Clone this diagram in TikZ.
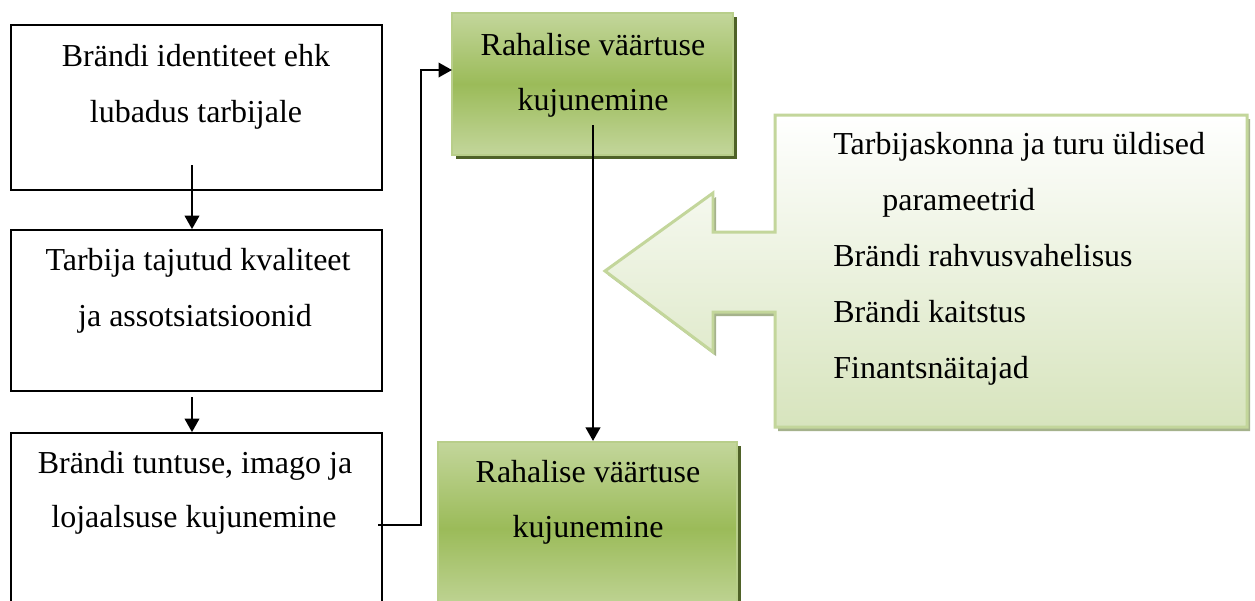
\documentclass[tikz,border=0pt]{standalone}
\usepackage{fontspec}
\setmainfont{Liberation Serif}
\usetikzlibrary{arrows.meta,shadows,calc}
\definecolor{gtop}{RGB}{195,214,155}
\definecolor{gmid}{RGB}{155,187,89}
\definecolor{gborder}{RGB}{184,206,138}
\definecolor{gshadow}{RGB}{79,98,40}
\definecolor{cbot}{RGB}{215,228,189}
\definecolor{cborder}{RGB}{195,214,155}
\definecolor{cshadow}{RGB}{165,178,140}
\tikzset{
  plainbox/.style={draw=black, line width=1pt, fill=white, inner sep=0pt},
  greenbox/.style={draw=gborder, line width=1.2pt, inner sep=0pt,
    top color=gtop, bottom color=gtop, middle color=gmid,
    drop shadow={shadow xshift=0.08cm, shadow yshift=-0.08cm, opacity=1, fill=gshadow}},
  txt/.style={inner sep=0pt, font=\fontsize{18.2}{20}\selectfont},
  arr/.style={draw=black, line width=1.25pt, -{Triangle[length=0.27cm,width=0.29cm]}},
}
\newcommand{\calloutpath}{(775,115) -- (1247,115) -- (1247,427) -- (775,427) -- (775,312) -- (713,312) -- (713,352) -- (605,271) -- (713,193) -- (713,232) -- (775,232) -- cycle}
\begin{document}
\begin{tikzpicture}[x=0.02cm,y=-0.02cm]
\clip (0,0) rectangle (1255,600);
\fill[white] (0,0) rectangle (1255,600);
% left column boxes
\node[plainbox, minimum width=7.42cm, minimum height=3.3cm] (b1) at (196.5,107.5) {};
\node[plainbox, minimum width=7.42cm, minimum height=3.22cm] (b2) at (196.5,310.5) {};
\node[plainbox, minimum width=7.42cm, minimum height=3.64cm] (b3) at (196.5,524) {};
\node[txt, anchor=base] (b1t1) at (196,66) {Brändi identiteet ehk};
\node[txt, anchor=base] (b1t2) at (196,122) {lubadus tarbijale};
\node[txt, anchor=base] (b2t1) at (198,270) {Tarbija tajutud kvaliteet};
\node[txt, anchor=base] (b2t2) at (195,326) {ja assotsiatsioonid};
\node[txt, anchor=base] (b3t1) at (195,473) {Brändi tuntuse, imago ja};
\node[txt, anchor=base] (b3t2) at (194,527) {lojaalsuse kujunemine};
% green boxes
\node[greenbox, minimum width=5.62cm, minimum height=2.84cm] (g1) at (592.5,84) {};
\node[greenbox, minimum width=5.98cm, minimum height=3.46cm] (g2) at (587.5,528.5) {};
\node[txt, anchor=base] (g1t1) at (593,55) {Rahalise väärtuse};
\node[txt, anchor=base] (g1t2) at (593,110) {kujunemine};
\node[txt, anchor=base] (g2t1) at (588,482) {Rahalise väärtuse};
\node[txt, anchor=base] (g2t2) at (588,537) {kujunemine};
% callout
\begin{scope}[shift={(3,4)}]
\fill[cshadow] \calloutpath;
\end{scope}
\path[top color=white, bottom color=cbot, draw=cborder, line width=1.7pt, line join=miter] \calloutpath;
\node[txt, anchor=base west] (c1) at (833,154) {Tarbijaskonna ja turu üldised};
\node[txt, anchor=base west] (c2) at (882,210) {parameetrid};
\node[txt, anchor=base west] (c3) at (833,266) {Brändi rahvusvahelisus};
\node[txt, anchor=base west] (c4) at (833,322) {Brändi kaitstus};
\node[txt, anchor=base west] (c5) at (833,378) {Finantsnäitajad};
% connectors
\coordinate (a1s) at (192,165);
\coordinate (a2s) at (192,397);
\coordinate (a3s) at (378,525);
\coordinate (g1in) at (452,70);
\coordinate (g1s) at (593,125);
\draw[arr] (a1s) -- (a1s |- b2.north);
\draw[arr] (a2s) -- (a2s |- b3.north);
\draw[arr] (a3s) -- ++(43,0) |- (g1in);
\draw[arr] (g1s) -- (g1s |- g2.north);
\end{tikzpicture}
\end{document}
